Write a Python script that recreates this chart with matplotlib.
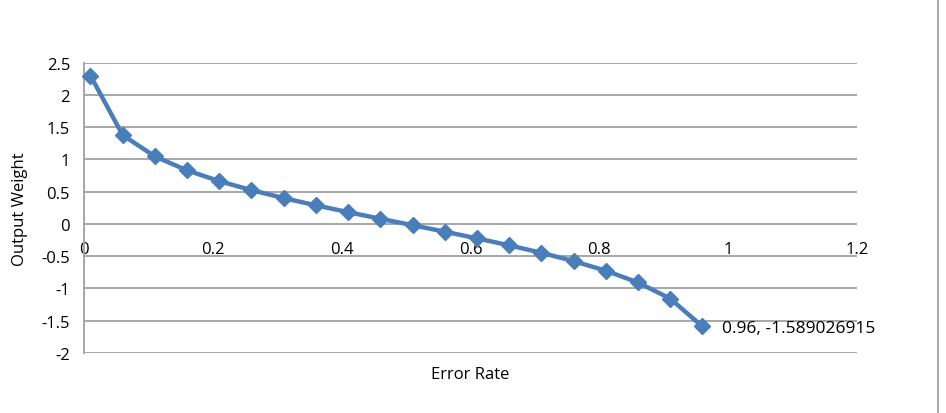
import matplotlib.pyplot as plt
from matplotlib.lines import Line2D

error_rate = [0.01, 0.06, 0.11, 0.16, 0.21, 0.26, 0.31, 0.36, 0.41, 0.46,
              0.51, 0.56, 0.61, 0.66, 0.71, 0.76, 0.81, 0.86, 0.91, 0.96]
output_weight = [2.2976, 1.3757, 1.0454, 0.8291, 0.6625, 0.5230, 0.4001,
                 0.2877, 0.1820, 0.0802, -0.0200, -0.1206, -0.2237, -0.3316,
                 -0.4477, -0.5763, -0.7250, -0.9076, -1.1568, -1.5890]
x_ticks = [0, 0.2, 0.4, 0.6, 0.8, 1, 1.2]
x_tick_labels = ["0", "0.2", "0.4", "0.6", "0.8", "1", "1.2"]
y_ticks = [-2, -1.5, -1, -0.5, 0, 0.5, 1, 1.5, 2, 2.5]
y_tick_labels = ["-2", "-1.5", "-1", "-0.5", "0", "0.5", "1", "1.5", "2", "2.5"]
last_label = "0.96, -1.589026915"

plt.rcParams["font.family"] = ["Open Sans", "DejaVu Sans"]
BLUE = "#4a7ebb"
GRID = "#a0a0a0"

fig = plt.figure(figsize=(9.46, 4.14), dpi=100)
ax = fig.add_axes([0.0888, 0.1449, 0.8171, 0.7017])

ax.plot(error_rate, output_weight, "-", color=BLUE, lw=3.2,
        marker="D", ms=8, mfc=BLUE, mec=BLUE, clip_on=False, zorder=3)
ax.annotate(last_label, (error_rate[-1], output_weight[-1]),
            xytext=(14, -1), textcoords="offset points",
            va="center", ha="left", fontsize=12.5)

ax.set_xlim(0, 1.2)
ax.set_ylim(-2, 2.5)
ax.set_yticks(y_ticks)
ax.set_yticklabels(y_tick_labels)
ax.set_xticks(x_ticks)
ax.set_xticklabels(x_tick_labels)

for y in y_ticks:
    ax.axhline(y, color=GRID, lw=1.3, zorder=1)

for s in ("top", "right"):
    ax.spines[s].set_visible(False)
ax.spines["left"].set_color(GRID)
ax.spines["left"].set_linewidth(1.3)
ax.spines["bottom"].set_position(("data", 0))
ax.spines["bottom"].set_visible(False)

ax.tick_params(axis="both", length=0, labelsize=12)
ax.tick_params(axis="y", pad=10)
ax.tick_params(axis="x", pad=12)

ax.set_xlabel("Error Rate", fontsize=12)
ax.xaxis.set_label_coords(0.5, -0.045)
ax.set_ylabel("Output Weight", fontsize=12)
ax.yaxis.set_label_coords(-0.072, 0.5)

fig.add_artist(Line2D([938 / 946, 938 / 946], [0, 1], color=GRID, lw=1.3,
                      transform=fig.transFigure))

fig.savefig("out.png", dpi=100)
